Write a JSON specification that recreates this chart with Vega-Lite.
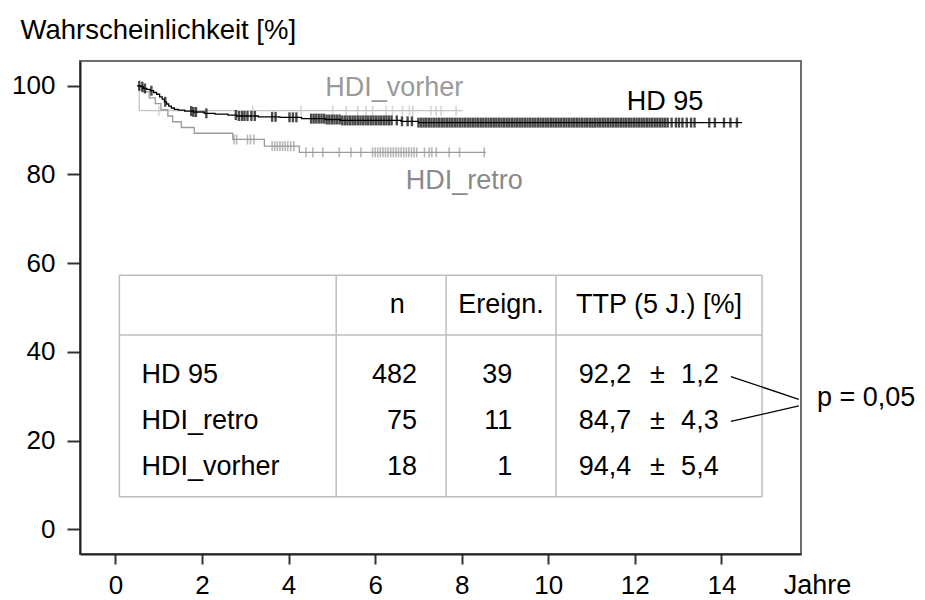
{
  "$schema": "https://vega.github.io/schema/vega-lite/v6.json",
  "width": 721,
  "height": 493,
  "autosize": "none",
  "padding": {"left": 80, "top": 61, "right": 124, "bottom": 46},
  "background": "white",
  "config": {
    "view": {"stroke": "#6e6e6e", "strokeWidth": 2},
    "font": "Liberation Sans",
    "text": {"font": "Liberation Sans"}
  },
  "datasets": {
    "curve": [
      {"g": "HDI_vorher", "t": 0.5, "s": 100},
      {"g": "HDI_vorher", "t": 0.55, "s": 94.4},
      {"g": "HDI_vorher", "t": 8.02, "s": 94.4},
      {"g": "HDI_retro", "t": 0.5, "s": 100},
      {"g": "HDI_retro", "t": 0.62, "s": 98.7},
      {"g": "HDI_retro", "t": 0.78, "s": 97.3},
      {"g": "HDI_retro", "t": 0.92, "s": 96.0},
      {"g": "HDI_retro", "t": 1.05, "s": 94.6},
      {"g": "HDI_retro", "t": 1.21, "s": 93.2},
      {"g": "HDI_retro", "t": 1.32, "s": 91.9},
      {"g": "HDI_retro", "t": 1.52, "s": 90.6},
      {"g": "HDI_retro", "t": 1.82, "s": 89.3},
      {"g": "HDI_retro", "t": 2.71, "s": 87.9},
      {"g": "HDI_retro", "t": 3.44, "s": 86.4},
      {"g": "HDI_retro", "t": 4.25, "s": 85.0},
      {"g": "HDI_retro", "t": 8.56, "s": 85.0},
      {"g": "HD 95", "t": 0.5, "s": 100},
      {"g": "HD 95", "t": 0.58, "s": 99.8},
      {"g": "HD 95", "t": 0.65, "s": 99.4},
      {"g": "HD 95", "t": 0.72, "s": 99.2},
      {"g": "HD 95", "t": 0.8, "s": 98.9},
      {"g": "HD 95", "t": 0.88, "s": 98.5},
      {"g": "HD 95", "t": 0.95, "s": 98.1},
      {"g": "HD 95", "t": 1.02, "s": 97.5},
      {"g": "HD 95", "t": 1.08, "s": 97.0},
      {"g": "HD 95", "t": 1.13, "s": 96.4},
      {"g": "HD 95", "t": 1.18, "s": 95.9},
      {"g": "HD 95", "t": 1.23, "s": 95.4},
      {"g": "HD 95", "t": 1.29, "s": 95.0},
      {"g": "HD 95", "t": 1.36, "s": 94.7},
      {"g": "HD 95", "t": 1.45, "s": 94.5},
      {"g": "HD 95", "t": 1.6, "s": 94.3},
      {"g": "HD 95", "t": 1.8, "s": 94.1},
      {"g": "HD 95", "t": 2.05, "s": 93.8},
      {"g": "HD 95", "t": 2.3, "s": 93.6},
      {"g": "HD 95", "t": 2.6, "s": 93.4},
      {"g": "HD 95", "t": 2.8, "s": 93.2},
      {"g": "HD 95", "t": 3.3, "s": 93.0},
      {"g": "HD 95", "t": 3.8, "s": 92.9},
      {"g": "HD 95", "t": 4.3, "s": 92.6},
      {"g": "HD 95", "t": 4.85, "s": 92.4},
      {"g": "HD 95", "t": 5.2, "s": 92.2},
      {"g": "HD 95", "t": 6.6, "s": 92.0},
      {"g": "HD 95", "t": 7.0, "s": 91.7},
      {"g": "HD 95", "t": 14.48, "s": 91.7}
    ],
    "cens": [
      {"g": "HDI_vorher", "t": 1.0, "s": 94.4},
      {"g": "HDI_vorher", "t": 3.17, "s": 94.4},
      {"g": "HDI_vorher", "t": 4.29, "s": 94.4},
      {"g": "HDI_vorher", "t": 5.02, "s": 94.4},
      {"g": "HDI_vorher", "t": 5.33, "s": 94.4},
      {"g": "HDI_vorher", "t": 5.6, "s": 94.4},
      {"g": "HDI_vorher", "t": 5.79, "s": 94.4},
      {"g": "HDI_vorher", "t": 5.94, "s": 94.4},
      {"g": "HDI_vorher", "t": 6.25, "s": 94.4},
      {"g": "HDI_vorher", "t": 6.4, "s": 94.4},
      {"g": "HDI_vorher", "t": 6.63, "s": 94.4},
      {"g": "HDI_vorher", "t": 6.79, "s": 94.4},
      {"g": "HDI_vorher", "t": 6.87, "s": 94.4},
      {"g": "HDI_vorher", "t": 7.29, "s": 94.4},
      {"g": "HDI_vorher", "t": 7.41, "s": 94.4},
      {"g": "HDI_vorher", "t": 7.52, "s": 94.4},
      {"g": "HDI_vorher", "t": 7.87, "s": 94.4},
      {"g": "HDI_retro", "t": 2.74, "s": 87.9},
      {"g": "HDI_retro", "t": 2.8, "s": 87.9},
      {"g": "HDI_retro", "t": 3.05, "s": 87.9},
      {"g": "HDI_retro", "t": 3.12, "s": 87.9},
      {"g": "HDI_retro", "t": 3.2, "s": 87.9},
      {"g": "HDI_retro", "t": 3.62, "s": 86.4},
      {"g": "HDI_retro", "t": 3.68, "s": 86.4},
      {"g": "HDI_retro", "t": 3.74, "s": 86.4},
      {"g": "HDI_retro", "t": 3.8, "s": 86.4},
      {"g": "HDI_retro", "t": 3.86, "s": 86.4},
      {"g": "HDI_retro", "t": 3.92, "s": 86.4},
      {"g": "HDI_retro", "t": 3.98, "s": 86.4},
      {"g": "HDI_retro", "t": 4.05, "s": 86.4},
      {"g": "HDI_retro", "t": 4.12, "s": 86.4},
      {"g": "HDI_retro", "t": 4.4, "s": 85.0},
      {"g": "HDI_retro", "t": 4.56, "s": 85.0},
      {"g": "HDI_retro", "t": 4.79, "s": 85.0},
      {"g": "HDI_retro", "t": 5.17, "s": 85.0},
      {"g": "HDI_retro", "t": 5.44, "s": 85.0},
      {"g": "HDI_retro", "t": 5.67, "s": 85.0},
      {"g": "HDI_retro", "t": 5.94, "s": 85.0},
      {"g": "HDI_retro", "t": 6.0, "s": 85.0},
      {"g": "HDI_retro", "t": 6.06, "s": 85.0},
      {"g": "HDI_retro", "t": 6.12, "s": 85.0},
      {"g": "HDI_retro", "t": 6.18, "s": 85.0},
      {"g": "HDI_retro", "t": 6.24, "s": 85.0},
      {"g": "HDI_retro", "t": 6.3, "s": 85.0},
      {"g": "HDI_retro", "t": 6.36, "s": 85.0},
      {"g": "HDI_retro", "t": 6.42, "s": 85.0},
      {"g": "HDI_retro", "t": 6.48, "s": 85.0},
      {"g": "HDI_retro", "t": 6.54, "s": 85.0},
      {"g": "HDI_retro", "t": 6.6, "s": 85.0},
      {"g": "HDI_retro", "t": 6.66, "s": 85.0},
      {"g": "HDI_retro", "t": 6.72, "s": 85.0},
      {"g": "HDI_retro", "t": 6.78, "s": 85.0},
      {"g": "HDI_retro", "t": 6.84, "s": 85.0},
      {"g": "HDI_retro", "t": 6.9, "s": 85.0},
      {"g": "HDI_retro", "t": 6.96, "s": 85.0},
      {"g": "HDI_retro", "t": 7.14, "s": 85.0},
      {"g": "HDI_retro", "t": 7.25, "s": 85.0},
      {"g": "HDI_retro", "t": 7.31, "s": 85.0},
      {"g": "HDI_retro", "t": 7.41, "s": 85.0},
      {"g": "HDI_retro", "t": 7.71, "s": 85.0},
      {"g": "HDI_retro", "t": 7.95, "s": 85.0},
      {"g": "HDI_retro", "t": 8.52, "s": 85.0},
      {"g": "HD 95", "t": 0.55, "s": 100},
      {"g": "HD 95", "t": 0.62, "s": 99.8},
      {"g": "HD 95", "t": 0.68, "s": 99.4},
      {"g": "HD 95", "t": 0.83, "s": 98.9},
      {"g": "HD 95", "t": 1.15, "s": 96.4},
      {"g": "HD 95", "t": 1.75, "s": 94.3},
      {"g": "HD 95", "t": 1.8, "s": 94.1},
      {"g": "HD 95", "t": 1.86, "s": 94.1},
      {"g": "HD 95", "t": 2.1, "s": 93.8},
      {"g": "HD 95", "t": 2.78, "s": 93.4},
      {"g": "HD 95", "t": 2.85, "s": 93.2},
      {"g": "HD 95", "t": 2.92, "s": 93.2},
      {"g": "HD 95", "t": 2.98, "s": 93.2},
      {"g": "HD 95", "t": 3.05, "s": 93.2},
      {"g": "HD 95", "t": 3.14, "s": 93.2},
      {"g": "HD 95", "t": 3.22, "s": 93.2},
      {"g": "HD 95", "t": 3.62, "s": 93.0},
      {"g": "HD 95", "t": 3.7, "s": 93.0},
      {"g": "HD 95", "t": 4.02, "s": 92.9},
      {"g": "HD 95", "t": 4.1, "s": 92.9},
      {"g": "HD 95", "t": 4.18, "s": 92.9},
      {"g": "HD 95", "t": 4.52, "s": 92.6},
      {"g": "HD 95", "t": 4.58, "s": 92.6},
      {"g": "HD 95", "t": 4.64, "s": 92.6},
      {"g": "HD 95", "t": 4.7, "s": 92.6},
      {"g": "HD 95", "t": 4.76, "s": 92.6},
      {"g": "HD 95", "t": 4.82, "s": 92.6},
      {"g": "HD 95", "t": 4.88, "s": 92.4},
      {"g": "HD 95", "t": 4.94, "s": 92.4},
      {"g": "HD 95", "t": 5.0, "s": 92.4},
      {"g": "HD 95", "t": 5.06, "s": 92.4},
      {"g": "HD 95", "t": 5.12, "s": 92.4},
      {"g": "HD 95", "t": 5.18, "s": 92.4},
      {"g": "HD 95", "t": 5.24, "s": 92.2},
      {"g": "HD 95", "t": 5.3, "s": 92.2},
      {"g": "HD 95", "t": 5.36, "s": 92.2},
      {"g": "HD 95", "t": 5.42, "s": 92.2},
      {"g": "HD 95", "t": 5.48, "s": 92.2},
      {"g": "HD 95", "t": 5.54, "s": 92.2},
      {"g": "HD 95", "t": 5.6, "s": 92.2},
      {"g": "HD 95", "t": 5.66, "s": 92.2},
      {"g": "HD 95", "t": 5.72, "s": 92.2},
      {"g": "HD 95", "t": 5.78, "s": 92.2},
      {"g": "HD 95", "t": 5.84, "s": 92.2},
      {"g": "HD 95", "t": 5.9, "s": 92.2},
      {"g": "HD 95", "t": 5.96, "s": 92.2},
      {"g": "HD 95", "t": 6.02, "s": 92.2},
      {"g": "HD 95", "t": 6.08, "s": 92.2},
      {"g": "HD 95", "t": 6.14, "s": 92.2},
      {"g": "HD 95", "t": 6.2, "s": 92.2},
      {"g": "HD 95", "t": 6.26, "s": 92.2},
      {"g": "HD 95", "t": 6.32, "s": 92.2},
      {"g": "HD 95", "t": 6.38, "s": 92.2},
      {"g": "HD 95", "t": 6.5, "s": 92.2},
      {"g": "HD 95", "t": 6.62, "s": 92.0},
      {"g": "HD 95", "t": 6.75, "s": 92.0},
      {"g": "HD 95", "t": 6.85, "s": 92.0},
      {"g": "HD 95", "t": 7.0, "s": 91.7},
      {"g": "HD 95", "t": 7.06, "s": 91.7},
      {"g": "HD 95", "t": 7.12, "s": 91.7},
      {"g": "HD 95", "t": 7.18, "s": 91.7},
      {"g": "HD 95", "t": 7.24, "s": 91.7},
      {"g": "HD 95", "t": 7.3, "s": 91.7},
      {"g": "HD 95", "t": 7.36, "s": 91.7},
      {"g": "HD 95", "t": 7.42, "s": 91.7},
      {"g": "HD 95", "t": 7.48, "s": 91.7},
      {"g": "HD 95", "t": 7.54, "s": 91.7},
      {"g": "HD 95", "t": 7.6, "s": 91.7},
      {"g": "HD 95", "t": 7.66, "s": 91.7},
      {"g": "HD 95", "t": 7.72, "s": 91.7},
      {"g": "HD 95", "t": 7.78, "s": 91.7},
      {"g": "HD 95", "t": 7.84, "s": 91.7},
      {"g": "HD 95", "t": 7.9, "s": 91.7},
      {"g": "HD 95", "t": 7.96, "s": 91.7},
      {"g": "HD 95", "t": 8.02, "s": 91.7},
      {"g": "HD 95", "t": 8.08, "s": 91.7},
      {"g": "HD 95", "t": 8.14, "s": 91.7},
      {"g": "HD 95", "t": 8.2, "s": 91.7},
      {"g": "HD 95", "t": 8.26, "s": 91.7},
      {"g": "HD 95", "t": 8.32, "s": 91.7},
      {"g": "HD 95", "t": 8.38, "s": 91.7},
      {"g": "HD 95", "t": 8.44, "s": 91.7},
      {"g": "HD 95", "t": 8.5, "s": 91.7},
      {"g": "HD 95", "t": 8.56, "s": 91.7},
      {"g": "HD 95", "t": 8.62, "s": 91.7},
      {"g": "HD 95", "t": 8.68, "s": 91.7},
      {"g": "HD 95", "t": 8.74, "s": 91.7},
      {"g": "HD 95", "t": 8.8, "s": 91.7},
      {"g": "HD 95", "t": 8.86, "s": 91.7},
      {"g": "HD 95", "t": 8.92, "s": 91.7},
      {"g": "HD 95", "t": 8.98, "s": 91.7},
      {"g": "HD 95", "t": 9.04, "s": 91.7},
      {"g": "HD 95", "t": 9.1, "s": 91.7},
      {"g": "HD 95", "t": 9.16, "s": 91.7},
      {"g": "HD 95", "t": 9.22, "s": 91.7},
      {"g": "HD 95", "t": 9.28, "s": 91.7},
      {"g": "HD 95", "t": 9.34, "s": 91.7},
      {"g": "HD 95", "t": 9.4, "s": 91.7},
      {"g": "HD 95", "t": 9.46, "s": 91.7},
      {"g": "HD 95", "t": 9.52, "s": 91.7},
      {"g": "HD 95", "t": 9.58, "s": 91.7},
      {"g": "HD 95", "t": 9.64, "s": 91.7},
      {"g": "HD 95", "t": 9.7, "s": 91.7},
      {"g": "HD 95", "t": 9.76, "s": 91.7},
      {"g": "HD 95", "t": 9.82, "s": 91.7},
      {"g": "HD 95", "t": 9.88, "s": 91.7},
      {"g": "HD 95", "t": 9.94, "s": 91.7},
      {"g": "HD 95", "t": 10.0, "s": 91.7},
      {"g": "HD 95", "t": 10.06, "s": 91.7},
      {"g": "HD 95", "t": 10.12, "s": 91.7},
      {"g": "HD 95", "t": 10.18, "s": 91.7},
      {"g": "HD 95", "t": 10.24, "s": 91.7},
      {"g": "HD 95", "t": 10.3, "s": 91.7},
      {"g": "HD 95", "t": 10.36, "s": 91.7},
      {"g": "HD 95", "t": 10.42, "s": 91.7},
      {"g": "HD 95", "t": 10.48, "s": 91.7},
      {"g": "HD 95", "t": 10.54, "s": 91.7},
      {"g": "HD 95", "t": 10.6, "s": 91.7},
      {"g": "HD 95", "t": 10.66, "s": 91.7},
      {"g": "HD 95", "t": 10.72, "s": 91.7},
      {"g": "HD 95", "t": 10.78, "s": 91.7},
      {"g": "HD 95", "t": 10.84, "s": 91.7},
      {"g": "HD 95", "t": 10.9, "s": 91.7},
      {"g": "HD 95", "t": 10.96, "s": 91.7},
      {"g": "HD 95", "t": 11.02, "s": 91.7},
      {"g": "HD 95", "t": 11.08, "s": 91.7},
      {"g": "HD 95", "t": 11.14, "s": 91.7},
      {"g": "HD 95", "t": 11.2, "s": 91.7},
      {"g": "HD 95", "t": 11.26, "s": 91.7},
      {"g": "HD 95", "t": 11.32, "s": 91.7},
      {"g": "HD 95", "t": 11.38, "s": 91.7},
      {"g": "HD 95", "t": 11.44, "s": 91.7},
      {"g": "HD 95", "t": 11.5, "s": 91.7},
      {"g": "HD 95", "t": 11.56, "s": 91.7},
      {"g": "HD 95", "t": 11.62, "s": 91.7},
      {"g": "HD 95", "t": 11.68, "s": 91.7},
      {"g": "HD 95", "t": 11.74, "s": 91.7},
      {"g": "HD 95", "t": 11.8, "s": 91.7},
      {"g": "HD 95", "t": 11.86, "s": 91.7},
      {"g": "HD 95", "t": 11.92, "s": 91.7},
      {"g": "HD 95", "t": 11.98, "s": 91.7},
      {"g": "HD 95", "t": 12.04, "s": 91.7},
      {"g": "HD 95", "t": 12.1, "s": 91.7},
      {"g": "HD 95", "t": 12.16, "s": 91.7},
      {"g": "HD 95", "t": 12.22, "s": 91.7},
      {"g": "HD 95", "t": 12.28, "s": 91.7},
      {"g": "HD 95", "t": 12.34, "s": 91.7},
      {"g": "HD 95", "t": 12.4, "s": 91.7},
      {"g": "HD 95", "t": 12.46, "s": 91.7},
      {"g": "HD 95", "t": 12.52, "s": 91.7},
      {"g": "HD 95", "t": 12.58, "s": 91.7},
      {"g": "HD 95", "t": 12.64, "s": 91.7},
      {"g": "HD 95", "t": 12.7, "s": 91.7},
      {"g": "HD 95", "t": 12.76, "s": 91.7},
      {"g": "HD 95", "t": 12.85, "s": 91.7},
      {"g": "HD 95", "t": 12.95, "s": 91.7},
      {"g": "HD 95", "t": 13.02, "s": 91.7},
      {"g": "HD 95", "t": 13.1, "s": 91.7},
      {"g": "HD 95", "t": 13.2, "s": 91.7},
      {"g": "HD 95", "t": 13.3, "s": 91.7},
      {"g": "HD 95", "t": 13.38, "s": 91.7},
      {"g": "HD 95", "t": 13.72, "s": 91.7},
      {"g": "HD 95", "t": 13.85, "s": 91.7},
      {"g": "HD 95", "t": 14.06, "s": 91.7},
      {"g": "HD 95", "t": 14.21, "s": 91.7},
      {"g": "HD 95", "t": 14.36, "s": 91.7}
    ],
    "tablines": [
      {"x": 0.09, "x2": 14.94, "y": 57.3, "y2": 57.3},
      {"x": 0.09, "x2": 14.94, "y": 43.8, "y2": 43.8},
      {"x": 0.09, "x2": 14.94, "y": 7.3, "y2": 7.3},
      {"x": 0.09, "x2": 0.09, "y": 7.3, "y2": 57.3},
      {"x": 14.94, "x2": 14.94, "y": 7.3, "y2": 57.3},
      {"x": 5.1, "x2": 5.1, "y": 7.3, "y2": 57.3},
      {"x": 7.64, "x2": 7.64, "y": 7.3, "y2": 57.3},
      {"x": 10.18, "x2": 10.18, "y": 7.3, "y2": 57.3}
    ],
    "bracket": [
      {"x": 14.22, "x2": 15.79, "y": 34.4, "y2": 29.3},
      {"x": 14.22, "x2": 15.79, "y": 24.3, "y2": 27.8}
    ]
  },
  "layer": [
    {
      "data": {"name": "tablines"},
      "mark": {"type": "rule", "color": "#bdbdbd", "strokeWidth": 1.5},
      "encoding": {
        "x": {"field": "x", "type": "quantitative", "scale": {"domain": [-0.82, 15.84], "nice": false, "zero": false},
          "axis": {"values": [0, 2, 4, 6, 8, 10, 12, 14], "grid": false, "domainColor": "#222", "domainWidth": 2, "tickColor": "#333", "tickWidth": 2, "tickSize": 10, "labelFontSize": 26, "labelColor": "#000", "labelFont": "Liberation Sans", "labelBaseline": "alphabetic", "labelPadding": 29, "labelFlush": false, "title": "Jahre", "titleFontSize": 27, "titleFont": "Liberation Sans", "titleFontWeight": "normal", "titleColor": "#000", "titleX": 737, "titleY": 39, "titleBaseline": "alphabetic", "titleAlign": "center"}},
        "x2": {"field": "x2"},
        "y": {"field": "y", "type": "quantitative", "scale": {"domain": [-5.6, 105.6], "nice": false, "zero": false},
          "axis": {"values": [0, 20, 40, 60, 80, 100], "grid": false, "domainColor": "#222", "domainWidth": 2, "tickColor": "#333", "tickWidth": 2, "tickSize": 13, "labelFontSize": 26, "labelColor": "#000", "labelFont": "Liberation Sans", "labelPadding": 12, "labelFlush": false, "title": "Wahrscheinlichkeit [%]", "titleFontSize": 27.5, "titleFont": "Liberation Sans", "titleFontWeight": "normal", "titleColor": "#000", "titleAngle": 0, "titleX": -60, "titleY": -23, "titleAlign": "left", "titleBaseline": "alphabetic"}},
        "y2": {"field": "y2"}
      }
    },
    {
      "data": {"name": "bracket"},
      "mark": {"type": "rule", "color": "#000", "strokeWidth": 1.3},
      "encoding": {
        "x": {"field": "x", "type": "quantitative"},
        "x2": {"field": "x2"},
        "y": {"field": "y", "type": "quantitative"},
        "y2": {"field": "y2"}
      }
    },
    {
      "data": {"name": "curve"},
      "mark": {"type": "line", "interpolate": "step-after"},
      "encoding": {
        "x": {"field": "t", "type": "quantitative"},
        "y": {"field": "s", "type": "quantitative"},
        "color": {"field": "g", "type": "nominal", "scale": {"domain": ["HDI_vorher", "HDI_retro", "HD 95"], "range": ["#c4c4c4", "#9a9a9a", "#000000"]}, "legend": null},
        "strokeWidth": {"field": "g", "type": "nominal", "scale": {"domain": ["HDI_vorher", "HDI_retro", "HD 95"], "range": [1.3, 1.3, 2.2]}, "legend": null}
      }
    },
    {
      "data": {"name": "cens"},
      "transform": [{"filter": "datum.g != 'HD 95'"}],
      "mark": {"type": "tick", "orient": "vertical", "size": 10, "thickness": 1.6},
      "encoding": {
        "x": {"field": "t", "type": "quantitative"},
        "y": {"field": "s", "type": "quantitative"},
        "color": {"field": "g", "type": "nominal", "scale": {"domain": ["HDI_vorher", "HDI_retro", "HD 95"], "range": ["#c4c4c4", "#9a9a9a", "#000000"]}, "legend": null}
      }
    },
    {
      "data": {"name": "cens"},
      "transform": [{"filter": "datum.g == 'HD 95'"}],
      "mark": {"type": "tick", "orient": "vertical", "size": 10, "thickness": 2.4, "color": "#000"},
      "encoding": {
        "x": {"field": "t", "type": "quantitative"},
        "y": {"field": "s", "type": "quantitative"}
      }
    },
    {
      "data": {"values": [
        {"label": "HDI_vorher", "x": 6.44, "y": 99.5, "c": "#9a9a9a"},
        {"label": "HD 95", "x": 12.7, "y": 96.4, "c": "#000000"},
        {"label": "HDI_retro", "x": 8.06, "y": 78.5, "c": "#8a8a8a"},
        {"label": "n", "x": 6.51, "y": 50.6, "c": "#000000"},
        {"label": "Ereign.", "x": 8.91, "y": 50.6, "c": "#000000"},
        {"label": "TTP (5 J.) [%]", "x": 12.56, "y": 50.6, "c": "#000000"},
        {"label": "±", "x": 12.52, "y": 34.8, "c": "#000000"},
        {"label": "±", "x": 12.52, "y": 24.4, "c": "#000000"},
        {"label": "±", "x": 12.52, "y": 14.0, "c": "#000000"}
      ]},
      "mark": {"type": "text", "align": "center", "baseline": "middle", "fontSize": 27, "font": "Liberation Sans"},
      "encoding": {
        "x": {"field": "x", "type": "quantitative"},
        "y": {"field": "y", "type": "quantitative"},
        "text": {"field": "label"},
        "color": {"field": "c", "type": "nominal", "scale": null}
      }
    },
    {
      "data": {"values": [
        {"label": "HD 95", "x": 0.6, "y": 34.8},
        {"label": "HDI_retro", "x": 0.6, "y": 24.4},
        {"label": "HDI_vorher", "x": 0.6, "y": 14.0},
        {"label": "1,2", "x": 13.07, "y": 34.8},
        {"label": "4,3", "x": 13.07, "y": 24.4},
        {"label": "5,4", "x": 13.07, "y": 14.0},
        {"label": "p = 0,05", "x": 16.21, "y": 29.6}
      ]},
      "mark": {"type": "text", "align": "left", "baseline": "middle", "fontSize": 27, "font": "Liberation Sans", "color": "#000"},
      "encoding": {
        "x": {"field": "x", "type": "quantitative"},
        "y": {"field": "y", "type": "quantitative"},
        "text": {"field": "label"}
      }
    },
    {
      "data": {"values": [
        {"label": "482", "x": 6.97, "y": 34.8},
        {"label": "75", "x": 6.97, "y": 24.4},
        {"label": "18", "x": 6.97, "y": 14.0},
        {"label": "39", "x": 9.17, "y": 34.8},
        {"label": "11", "x": 9.17, "y": 24.4},
        {"label": "1", "x": 9.17, "y": 14.0},
        {"label": "92,2", "x": 11.92, "y": 34.8},
        {"label": "84,7", "x": 11.92, "y": 24.4},
        {"label": "94,4", "x": 11.92, "y": 14.0}
      ]},
      "mark": {"type": "text", "align": "right", "baseline": "middle", "fontSize": 27, "font": "Liberation Sans", "color": "#000"},
      "encoding": {
        "x": {"field": "x", "type": "quantitative"},
        "y": {"field": "y", "type": "quantitative"},
        "text": {"field": "label"}
      }
    }
  ]
}
